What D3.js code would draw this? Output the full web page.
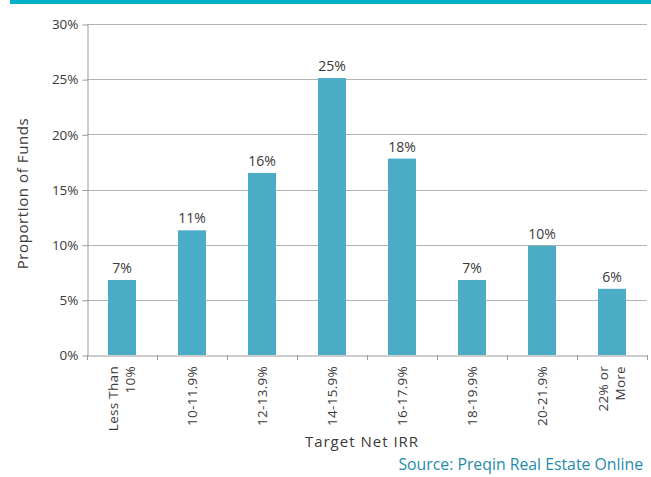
<!DOCTYPE html>
<html>
<head>
<meta charset="utf-8">
<script src="https://cdn.jsdelivr.net/npm/d3@7"></script>
<style>
  html, body { margin: 0; padding: 0; background: #fff; }
  svg { display: block; }
</style>
</head>
<body>
<script>
const categories = [["Less Than", "10%"], ["10-11.9%"], ["12-13.9%"], ["14-15.9%"], ["16-17.9%"], ["18-19.9%"], ["20-21.9%"], ["22% or", "More"]];
const values = [6.8, 11.3, 16.5, 25.1, 17.8, 6.8, 9.9, 6.0];
const valueLabels = ["7%", "11%", "16%", "25%", "18%", "7%", "10%", "6%"];
const yTicks = [0, 5, 10, 15, 20, 25, 30];

const W = 651, H = 477;
const m = { left: 87, right: 4, top: 24, bottom: 122 };
const font = "'Century Gothic', 'Open Sans', 'DejaVu Sans', sans-serif";

const svg = d3.select("body").append("svg").attr("width", W).attr("height", H);

// top bar
svg.append("rect").attr("x", 10).attr("y", 0).attr("width", W - 10).attr("height", 4).attr("fill", "#00afca");

const x = d3.scaleBand().domain(d3.range(categories.length)).range([m.left, W - m.right]).padding(0);
const y = d3.scaleLinear().domain([0, 30]).range([H - m.bottom, m.top]);

// gridlines
svg.append("g").selectAll("line").data(yTicks.filter(t => t > 0)).join("line")
  .attr("x1", m.left).attr("x2", W - m.right)
  .attr("y1", d => Math.round(y(d)) + 0.5).attr("y2", d => Math.round(y(d)) + 0.5)
  .attr("stroke", "#b3b3b3").attr("stroke-width", 1);

// y axis
const yAxis = d3.axisLeft(y).tickValues(yTicks).tickFormat(d => d + "%").tickSize(5).tickSizeOuter(0);
const gy = svg.append("g").attr("transform", `translate(${m.left + 0.5},0.5)`).call(yAxis);
gy.select(".domain").attr("stroke", "#999");
gy.selectAll(".tick line").attr("stroke", "#999");
gy.selectAll(".tick text").attr("font-family", font).attr("font-size", 13.5).attr("fill", "#3a3a3a").attr("x", -9);

// bars
const bw = x.bandwidth() * 0.4;
svg.append("g").selectAll("rect").data(values).join("rect")
  .attr("x", (d, i) => x(i) + (x.bandwidth() - bw) / 2)
  .attr("y", d => y(d))
  .attr("width", bw)
  .attr("height", d => y(0) - y(d))
  .attr("fill", "#4bacc6");

// value labels
svg.append("g").selectAll("text").data(values).join("text")
  .attr("x", (d, i) => x(i) + x.bandwidth() / 2)
  .attr("y", d => y(d) - 7)
  .attr("text-anchor", "middle")
  .attr("font-family", font).attr("font-size", 14).attr("fill", "#3a3a3a")
  .text((d, i) => valueLabels[i]);

// x axis
const xAxis = d3.axisBottom(x).tickSize(0).tickFormat("");
const gx = svg.append("g").attr("transform", `translate(0,${y(0) + 0.5})`).call(xAxis);
gx.select(".domain").attr("stroke", "#999");
// boundary ticks
svg.append("g").selectAll("line").data(d3.range(categories.length + 1)).join("line")
  .attr("x1", i => Math.round(m.left + i * x.bandwidth()) + 0.5)
  .attr("x2", i => Math.round(m.left + i * x.bandwidth()) + 0.5)
  .attr("y1", y(0)).attr("y2", y(0) + 5)
  .attr("stroke", "#999");

// x tick labels rotated
const lab = svg.append("g").selectAll("text").data(categories).join("text")
  .attr("transform", (d, i) => `translate(${x(i) + x.bandwidth() / 2},${y(0) + 11}) rotate(-90)`)
  .attr("text-anchor", "end")
  .attr("font-family", font).attr("font-size", 13.5).attr("letter-spacing", 0.3).attr("fill", "#3a3a3a");
lab.each(function(d) {
  const t = d3.select(this);
  const n = d.length;
  d.forEach((line, k) => {
    t.append("tspan").attr("x", 0)
      .attr("y", (k - (n - 1) / 2) * 16.5 + 4.7)
      .text(line);
  });
});

// axis titles
svg.append("text")
  .attr("transform", `translate(28,${(y(0) + y(30)) / 2 + 4}) rotate(-90)`)
  .attr("text-anchor", "middle")
  .attr("font-family", font).attr("font-size", 15).attr("letter-spacing", 0.6).attr("fill", "#3a3a3a")
  .text("Proportion of Funds");

svg.append("text")
  .attr("x", 362).attr("y", 447)
  .attr("text-anchor", "middle")
  .attr("font-family", font).attr("font-size", 15).attr("letter-spacing", 1).attr("fill", "#3a3a3a")
  .text("Target Net IRR");

// source
svg.append("text")
  .attr("x", 643).attr("y", 470)
  .attr("text-anchor", "end")
  .attr("font-family", "'Open Sans', 'Noto Sans', sans-serif").attr("font-size", 15.8).attr("fill", "#1f8bab")
  .text("Source: Preqin Real Estate Online");
</script>
</body>
</html>
